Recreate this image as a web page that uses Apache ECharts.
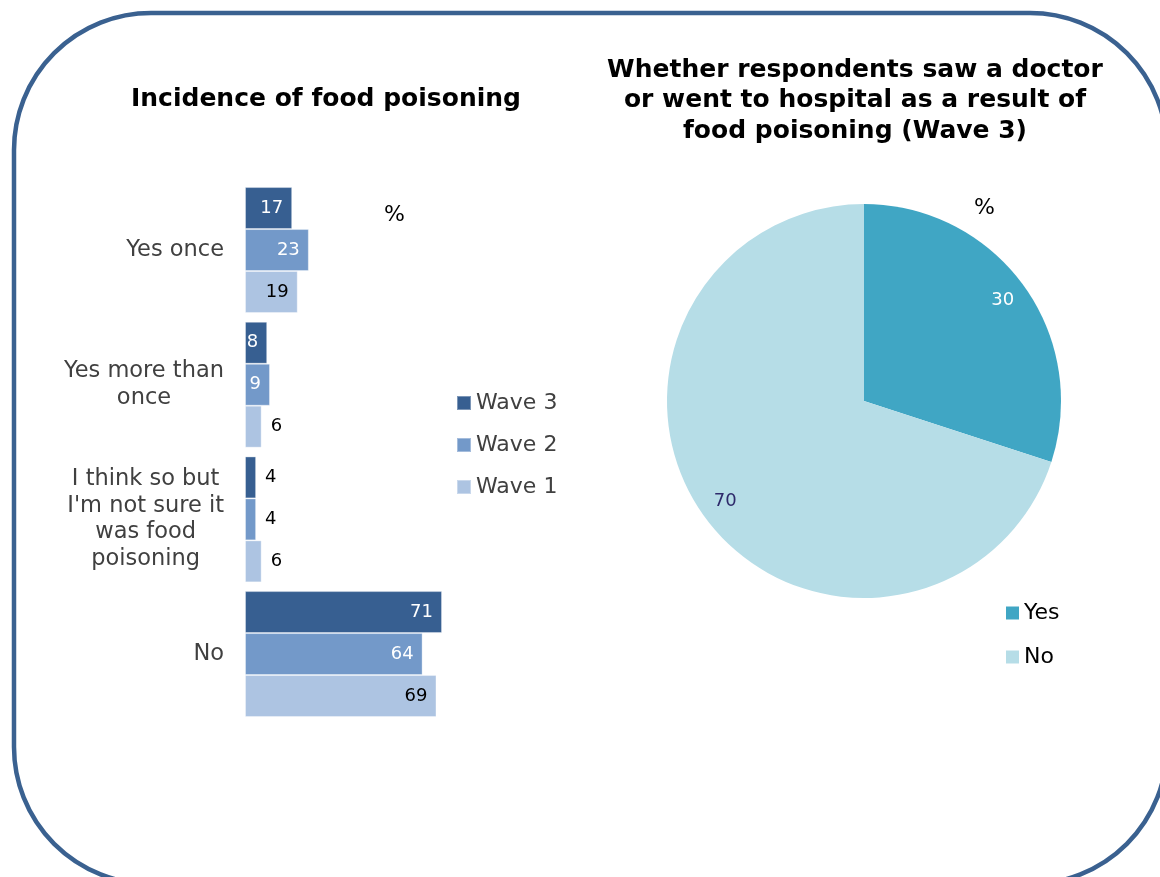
<!DOCTYPE html>
<html>
<head>
<meta charset="utf-8">
<script src="https://cdn.jsdelivr.net/npm/echarts@6/dist/echarts.min.js"></script>
<style>
html,body{margin:0;padding:0;background:#fff;}
#chart{width:1160px;height:877px;}
</style>
</head>
<body>
<div id="chart"></div>
<script>
// ---- Data ----
const categories = ['Yes once', 'Yes more than\nonce', "I think so but\nI'm not sure it\nwas food\npoisoning", 'No'];
const wave3 = [17, 8, 4, 71];
const wave2 = [23, 9, 4, 64];
const wave1 = [19, 6, 6, 69];
const seriesNames = ['Wave 3', 'Wave 2', 'Wave 1'];
const pieNames = ['Yes', 'No'];
const pieValues = [30, 70];

const FONT = "'DejaVu Sans', Verdana, sans-serif";
const barColors = ['#375F91', '#7399C9', '#ADC4E2'];
const labelColors = ['#ffffff', '#ffffff', '#000000'];
const pieColors = ['#40A6C4', '#B6DDE7'];
const pieLabelColors = ['#ffffff', '#2E2A6B'];

function barData(vals) {
  return vals.map(v => v < 7
    ? { value: v, label: { position: 'right', color: '#000000', distance: 9 } }
    : { value: v });
}

const barSeries = [wave3, wave2, wave1].map((vals, i) => ({
  name: seriesNames[i],
  type: 'bar',
  data: barData(vals),
  barGap: '0%',
  barCategoryGap: '6.5%',
  itemStyle: { color: barColors[i], borderColor: 'rgba(255,255,255,0.35)', borderWidth: 1 },
  label: {
    show: true,
    position: 'insideRight',
    distance: 9,
    color: labelColors[i],
    fontFamily: FONT,
    fontSize: 18
  },
  emphasis: { disabled: true }
}));

const chart = echarts.init(document.getElementById('chart'), null, { renderer: 'canvas' });
chart.setOption({
  animation: false,
  backgroundColor: '#ffffff',
  title: [
    {
      text: 'Incidence of food poisoning',
      left: 321, top: 82, textAlign: 'center',
      textStyle: { fontFamily: FONT, fontSize: 25, fontWeight: 'bold', color: '#000' }
    },
    {
      text: 'Whether respondents saw a doctor\nor went to hospital as a result of\nfood poisoning (Wave 3)',
      left: 850, top: 50, textAlign: 'center',
      textStyle: { fontFamily: FONT, fontSize: 25, fontWeight: 'bold', color: '#000', lineHeight: 30.5 }
    }
  ],
  legend: [
    {
      data: seriesNames,
      orient: 'vertical',
      left: 451, top: 387,
      itemWidth: 14, itemHeight: 14, itemGap: 20,
      icon: 'rect',
      textStyle: { fontFamily: FONT, fontSize: 22, color: '#404040' },
      selectedMode: false
    },
    {
      data: pieNames,
      orient: 'vertical',
      left: 1001, top: 597,
      itemWidth: 13, itemHeight: 13, itemGap: 22,
      icon: 'rect',
      textStyle: { fontFamily: FONT, fontSize: 22, color: '#000' },
      selectedMode: false
    }
  ],
  grid: { left: 245, top: 182.7, width: 277.5, height: 538.7, containLabel: false },
  xAxis: { type: 'value', min: 0, max: 100, show: false },
  yAxis: {
    type: 'category',
    data: categories,
    inverse: true,
    axisLine: { show: false },
    axisTick: { show: false },
    axisLabel: {
      margin: 21,
      fontFamily: FONT,
      fontSize: 22.5,
      color: '#404040',
      lineHeight: 26.5,
      formatter: function (v) {
        return v.split('\n').map(s => '{c|' + s + '}').join('\n');
      },
      rich: {
        c: { align: 'center', fontFamily: FONT, fontSize: 22.5, color: '#404040', lineHeight: 26.5 }
      }
    },
    splitLine: { show: false }
  },
  series: barSeries.concat([
    {
      name: 'pie',
      type: 'pie',
      center: [864, 401],
      radius: 197,
      startAngle: 90,
      clockwise: true,
      label: { show: false },
      labelLine: { show: false },
      emphasis: { disabled: true },
      data: pieNames.map((n, i) => ({ name: n, value: pieValues[i], itemStyle: { color: pieColors[i] } }))
    },
    {
      name: 'pieLabels',
      type: 'pie',
      center: [864, 401],
      radius: [140, 197],
      startAngle: 90,
      clockwise: true,
      silent: true,
      z: 3,
      itemStyle: { color: 'rgba(0,0,0,0)' },
      label: { show: true, position: 'inside', formatter: '{c}', fontFamily: FONT, fontSize: 18 },
      labelLine: { show: false },
      emphasis: { disabled: true },
      data: pieNames.map((n, i) => ({ name: n + ' ', value: pieValues[i], label: { color: pieLabelColors[i] } }))
    }
  ]),
  graphic: [
    {
      type: 'rect',
      shape: { x: 14, y: 13, width: 1153, height: 871, r: 137 },
      style: { fill: 'none', stroke: '#3A6190', lineWidth: 4.5 },
      silent: true, z: 100
    },
    {
      type: 'text', left: 384, top: 204,
      style: { text: '%', fontFamily: FONT, fontSize: 22, fill: '#000' }
    },
    {
      type: 'text', left: 974, top: 197,
      style: { text: '%', fontFamily: FONT, fontSize: 22, fill: '#000' }
    }
  ]
});
</script>
</body>
</html>
